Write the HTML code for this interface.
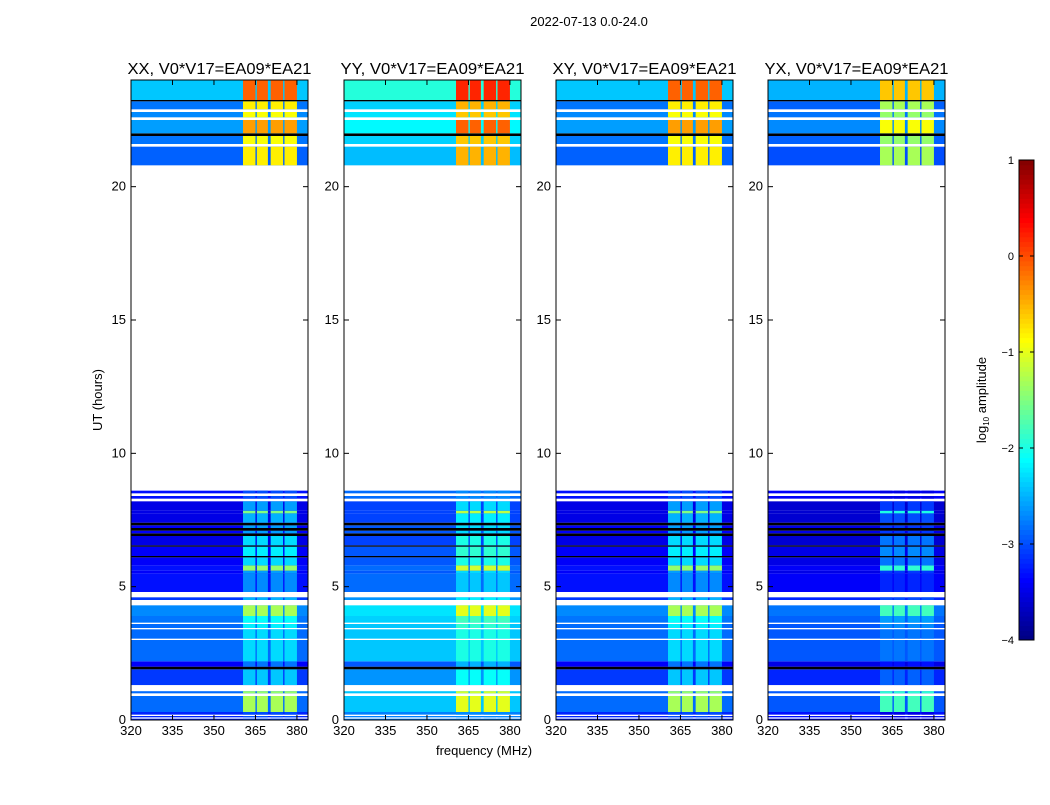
<!DOCTYPE html>
<html><head><meta charset="utf-8"><style>
body{margin:0;background:#fff;font-family:"Liberation Sans",sans-serif}
svg text{font-family:"Liberation Sans",sans-serif;fill:#000}
</style></head><body>
<svg id="fig" width="1050" height="800" xmlns="http://www.w3.org/2000/svg">
<text x="589" y="26" font-size="13" text-anchor="middle">2022-07-13 0.0-24.0</text>
<text x="102" y="400" font-size="13" text-anchor="middle" transform="rotate(-90 102 400)">UT (hours)</text>
<text x="484" y="755" font-size="13" text-anchor="middle">frequency (MHz)</text>
<g id="panels"></g>
<g id="cbar"></g>
</svg>
<script>
const panelTitles=["XX, V0*V17=EA09*EA21","YY, V0*V17=EA09*EA21","XY, V0*V17=EA09*EA21","YX, V0*V17=EA09*EA21"];
const panelLeft=[131,344,556,768];
const baseOffset=[0,0.45,0,-0.1];
const rfiOffset=[0,0.3,0,-0.5];
// time rows: start hour, end hour, base log amp (null=flagged white, -9=black), rfi log amp
const rowStart=[0,0.05,0.1,0.15,0.2,0.3,0.9,1.0,1.08,1.31,1.9,2.0,2.2,3.0,3.05,3.4,3.45,3.6,3.65,3.9,4.3,4.5,4.6,4.8,5.5,5.6,5.8,6.1,6.15,6.5,6.55,6.9,7.0,7.1,7.2,7.3,7.4,7.75,7.85,8.2,8.3,8.4,8.5,8.6,8.7,20.8,21.5,21.6,21.9,22.0,22.5,22.6,22.8,22.9,23.2,23.25];
const rowEnd=[0.05,0.1,0.15,0.2,0.3,0.9,1.0,1.08,1.31,1.9,2.0,2.2,3.0,3.05,3.4,3.45,3.6,3.65,3.9,4.3,4.5,4.6,4.8,5.5,5.6,5.8,6.1,6.15,6.5,6.55,6.9,7.0,7.1,7.2,7.3,7.4,7.75,7.85,8.2,8.3,8.4,8.5,8.6,8.7,20.8,21.5,21.6,21.9,22.0,22.5,22.6,22.8,22.9,23.2,23.25,24];
const rowBase=[-3.2,null,-3.2,null,-3.2,-2.85,null,-2.85,null,-3.1,-9,-3.4,-2.85,null,-2.85,null,-2.85,null,-2.8,-2.7,null,-3.1,null,-3.3,-3.4,-3.3,-3.4,-9,-3.4,-9,-3.5,-9,-3.4,-9,-3.4,-9,-3.5,-3.5,-3.5,null,-3.3,null,-3.3,null,null,-2.9,null,-2.8,-9,-2.6,null,-2.7,null,-2.8,-9,-2.4];
const rowRfi=[-3.0,null,-3.0,null,-3.0,-1.3,null,-1.4,null,-2.4,-9,-2.8,-2.3,null,-2.3,null,-2.2,null,-2.1,-1.3,null,-2.5,null,-2.7,-2.6,-1.4,-2.3,-9,-2.2,-9,-2.3,-9,-2.6,-9,-2.6,-9,-2.5,-1.5,-2.6,null,-3.0,null,-3.0,null,null,-0.8,null,-0.9,-9,-0.4,null,-0.9,null,-0.8,-9,-0.1];
// RFI frequency bands (MHz)
const bandStart=[360.5,365.5,370.5,375.5];
const bandEnd=[365,369.5,375,380];
const xTicks=[320,335,350,365,380];
const yTicks=[0,5,10,15,20];
const cbTicks=[-4,-3,-2,-1,0,1];

const fMin=320,fMax=384,tMin=0,tMax=24,pw=177,pTop=80,pBot=720;
const ty=t=>pBot-(t-tMin)/(tMax-tMin)*(pBot-pTop);
function jet(v){let x=Math.max(0,Math.min(1,(v+4)/5));
 const c=t=>Math.max(0,Math.min(1,1.5-Math.abs(4*x-t)));
 return `rgb(${Math.round(255*c(3))},${Math.round(255*c(2))},${Math.round(255*c(1))})`;}
const NS="http://www.w3.org/2000/svg";
function mk(tag,attrs,parent){const e=document.createElementNS(NS,tag);for(const k in attrs)e.setAttribute(k,attrs[k]);parent.appendChild(e);return e;}
const root=document.getElementById('panels');
panelLeft.forEach((L,p)=>{
 const fx=f=>L+(f-fMin)/(fMax-fMin)*pw;
 const g=mk('g',{},root);
 
 
 const hm=mk('g',{},g);
 
 
 rowStart.forEach((s,i)=>{
  if(rowBase[i]===null)return;
  const y0=ty(rowEnd[i]),y1=ty(s);
  const black=rowBase[i]===-9;
  const r=mk('rect',{x:L,y:y0,width:pw,height:Math.max(0.6,y1-y0),fill:black?'#000':jet(rowBase[i]+baseOffset[p])},hm);
  
  
  if(black)return;
  bandStart.forEach((b,j)=>{
   const c=mk('rect',{x:fx(b),y:y0,width:fx(bandEnd[j])-fx(b),height:Math.max(0.6,y1-y0),fill:jet(rowRfi[i]+rfiOffset[p])},hm);
   
   
  });
 });
 const fr=mk('rect',{x:L,y:pTop,width:pw,height:pBot-pTop,fill:'none',stroke:'#000','stroke-width':1},g);
 
 
 const t=mk('text',{x:L+pw/2,y:74,'font-size':16,'text-anchor':'middle',textLength:184,lengthAdjust:'spacingAndGlyphs'},g);
 t.textContent=panelTitles[p];
 
 
 xTicks.forEach(v=>{
  mk('line',{x1:fx(v),x2:fx(v),y1:pBot,y2:pBot-5,stroke:'#000'},g);
  mk('line',{x1:fx(v),x2:fx(v),y1:pTop,y2:pTop+5,stroke:'#000'},g);
  const tt=mk('text',{x:fx(v),y:pBot+15,'font-size':13,'text-anchor':'middle'},g);
  tt.textContent=v;
  
  
 });
 yTicks.forEach(v=>{
  mk('line',{x1:L,x2:L+5,y1:ty(v),y2:ty(v),stroke:'#000'},g);
  mk('line',{x1:L+pw,x2:L+pw-5,y1:ty(v),y2:ty(v),stroke:'#000'},g);
  const tt=mk('text',{x:L-5,y:ty(v)+4,'font-size':13,'text-anchor':'end'},g);
  tt.textContent=v;
  
  
 });
});
// colorbar
const cb=document.getElementById('cbar');
const cx=1019,cw=15,cTop=160,cBot=640;
const cy=v=>cBot-(v+4)/5*(cBot-cTop);
for(let i=0;i<100;i++){const v0=-4+i*0.05;
 mk('rect',{x:cx,y:cy(v0+0.05),width:cw,height:(cBot-cTop)/100+0.5,fill:jet(v0+0.025)},cb);}
mk('rect',{x:cx,y:cTop,width:cw,height:cBot-cTop,fill:'none',stroke:'#000'},cb);
cbTicks.forEach(v=>{
 mk('line',{x1:cx,x2:cx+4,y1:cy(v),y2:cy(v),stroke:'#000'},cb);
 mk('line',{x1:cx+cw,x2:cx+cw-4,y1:cy(v),y2:cy(v),stroke:'#000'},cb);
 const tt=mk('text',{x:cx-5,y:cy(v)+4,'font-size':11,'text-anchor':'end'},cb);
 tt.textContent=v<0?'\u2212'+(-v):v;
 
 
});
const lbl=mk('text',{x:986,y:400,'font-size':13,'text-anchor':'middle',transform:'rotate(-90 986 400)'},cb);
lbl.innerHTML='log<tspan font-size="8" dy="3">10</tspan><tspan dy="-3"> amplitude</tspan>';


</script>
</body></html>
